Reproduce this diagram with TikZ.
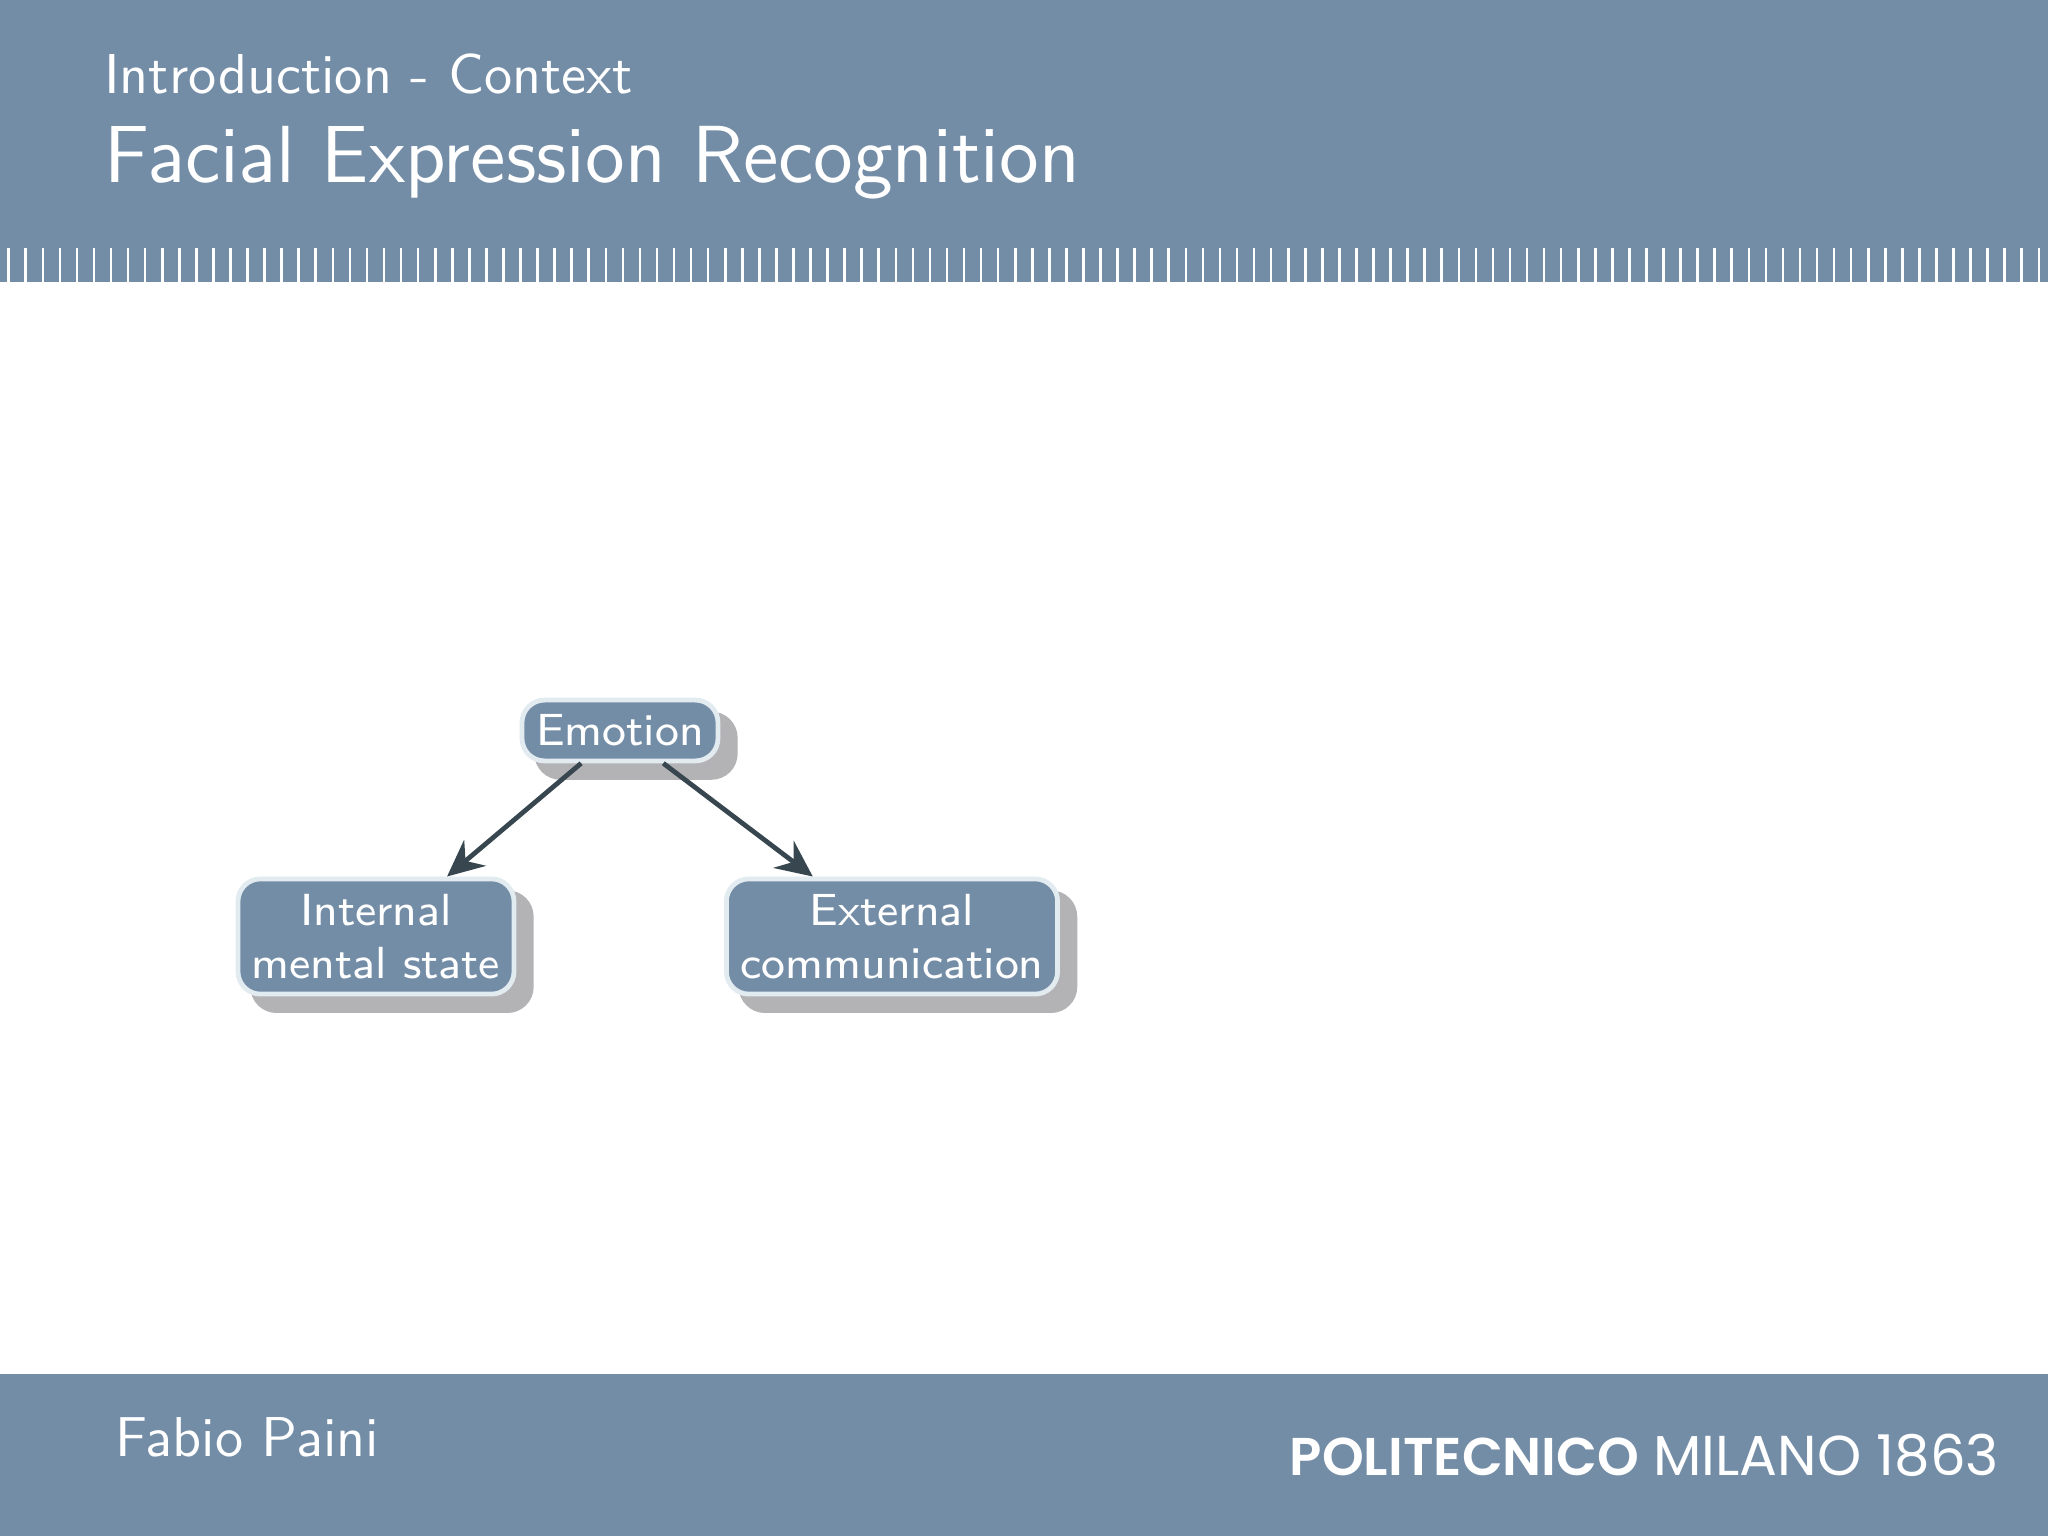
\documentclass[tikz,border=0pt]{standalone}
\usepackage{fontspec}
\newfontfamily\footfont[BoldFont={Poppins SemiBold}]{Poppins}
\usetikzlibrary{arrows.meta,shadows}
\definecolor{polislate}{HTML}{748DA7}
\definecolor{polirim}{HTML}{E2EBF0}
\definecolor{polishade}{HTML}{B3B3B5}
\definecolor{poliarrow}{HTML}{37464F}
\tikzset{
  block/.style={draw=polirim, fill=polislate, line width=0.85pt, rounded corners=4pt,
    text=white, align=center, inner sep=0pt, font=\sffamily\fontsize{8}{9.5}\selectfont,
    drop shadow={shadow xshift=1.0mm, shadow yshift=-0.95mm, draw=polishade, line width=1.3pt, fill=polishade, opacity=1}},
  link/.style={draw=poliarrow, line width=0.85pt, -{Stealth[length=6.5pt, width=6pt, inset=2.2pt]}},
  headtext/.style={text=white, inner sep=0pt, anchor=base west, font=\sffamily}
}
\begin{document}
\begin{tikzpicture}[x=0.0625mm, y=-0.0625mm]
  \useasboundingbox (0,0) rectangle (2048,1536);
  \fill[white] (0,0) rectangle (2048,1536);
  % Header and footer bands
  \fill[polislate] (0,0) rectangle (2048,282);
  \fill[polislate] (0,1374) rectangle (2048,1536);
  \foreach \i in {0,...,119}
    \fill[white] ({8.7+17.06*\i-1.3},248) rectangle ({8.7+17.06*\i+1.3},282);
  \node[headtext, font=\sffamily\fontsize{10}{12}\selectfont] (section) at (103,94) {Introduction - Context};
  \node[headtext, font=\sffamily\fontsize{14.4}{18}\selectfont] (title) at (103,182) {Facial Expression Recognition};
  \node[headtext, font=\sffamily\fontsize{10}{12}\selectfont] (speaker) at (114,1456) {Fabio Paini};
  \node[headtext, anchor=base east, font=\footfont] (school) at (2000,1475)
    {\fontsize{9.45}{11}\selectfont\textbf{POLITECNICO} \fontsize{10}{11}\selectfont MILANO 1863};
  % Boxes
  \node[block, minimum width=12.25mm, minimum height=3.8mm] (emotion) at (620,730.5) {Emotion};
  \node[block, minimum width=17.25mm, minimum height=7.2mm] (internal) at (376,936.5) {Internal\\mental state};
  \node[block, minimum width=20.7mm, minimum height=7.2mm] (external) at (892,936.5) {External\\communication};
  % Draw the arrows
  \draw[link] (emotion) -- (internal);
  \draw[link] (emotion) -- (external);
\end{tikzpicture}
\end{document}
